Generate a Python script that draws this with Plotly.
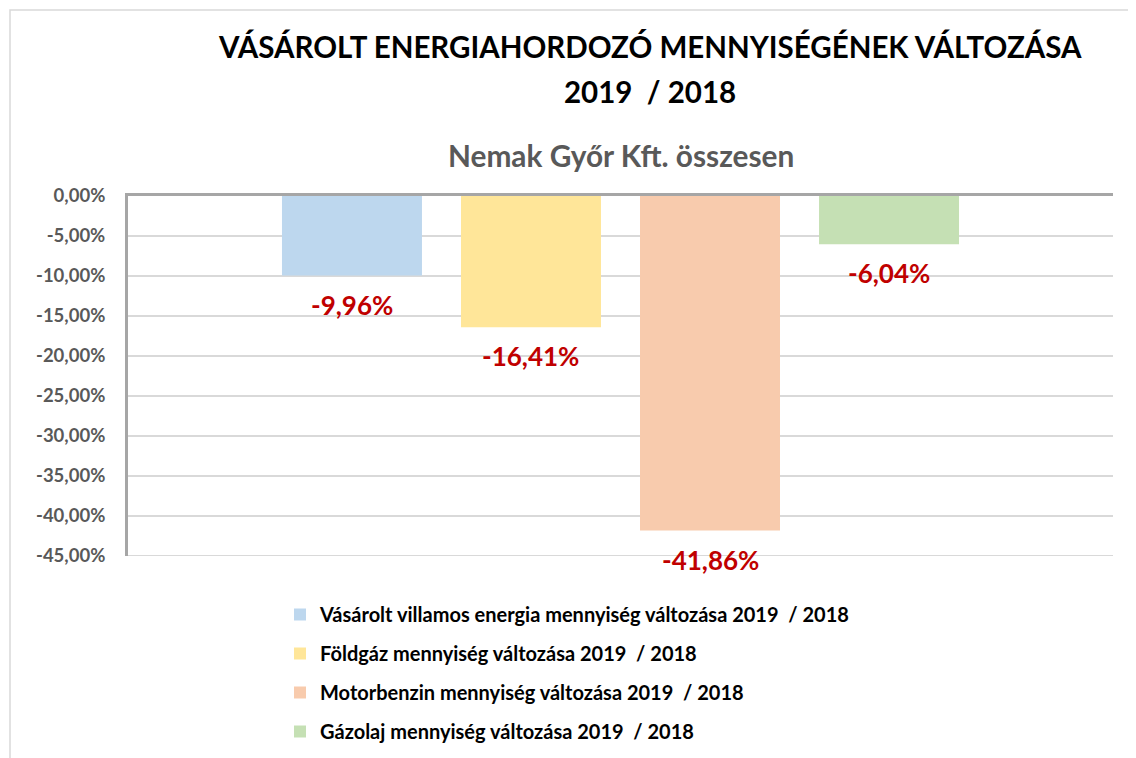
import plotly.graph_objects as go

category = ["Nemak Győr Kft. összesen"]
series_names = [
    "Vásárolt villamos energia mennyiség változása 2019\u00a0 / 2018",
    "Földgáz mennyiség változása 2019\u00a0 / 2018",
    "Motorbenzin mennyiség változása 2019\u00a0 / 2018",
    "Gázolaj mennyiség változása 2019\u00a0 / 2018",
]
series_values = [-0.0996, -0.1641, -0.4186, -0.0604]
series_colors = ["#BDD7EE", "#FFE699", "#F8CBAD", "#C5E0B4"]
tick_values = [0, -0.05, -0.10, -0.15, -0.20, -0.25, -0.30, -0.35, -0.40, -0.45]
tick_labels = ["0,00%", "-5,00%", "-10,00%", "-15,00%", "-20,00%", "-25,00%",
               "-30,00%", "-35,00%", "-40,00%", "-45,00%"]
title_lines = ["VÁSÁROLT ENERGIAHORDOZÓ MENNYISÉGÉNEK VÁLTOZÁSA", "2019\u00a0 / 2018"]
subtitle = "Nemak Győr Kft. összesen"

FONT = "Lato, 'Open Sans', sans-serif"
BARGAP = 0.273
BARGROUPGAP = 0.218
GRID = "#D9D9D9"

# page offset of the figure (default body margin of the html page)
OFF = 8
FIG_W, FIG_H = 1136 - OFF, 758 - OFF
# plot area in page pixels
L, R, T, B = 128, 1113, 196, 556
W, H = R - L, B - T


def px_x(p):
    return (p - L) / W


def px_y(p):
    return (B - p) / H


def fmt(v):
    return ("%.2f%%" % (v * 100)).replace(".", ",")


fig = go.Figure()
n = len(series_values)
annotations = []
for i, (name, val, col) in enumerate(zip(series_names, series_values, series_colors)):
    fig.add_trace(go.Bar(
        x=category, y=[val], name=name, marker=dict(color=col, line=dict(width=0)),
        legendgroup="g%d" % i, hoverinfo="skip",
    ))
    # data label below each bar, at the bar's slot within the group
    slot = (1 - BARGAP) / n
    annotations.append(dict(
        text=fmt(val), xref="x", yref="y", x=(i - (n - 1) / 2) * slot, y=val,
        xanchor="center", yanchor="top", yshift=-11, showarrow=False,
        font=dict(family=FONT, size=26, color="#C00000", weight="bold"),
    ))

for line, ypx in zip(title_lines, [47, 92]):
    annotations.append(dict(
        text=line, xref="paper", yref="paper", x=px_x(650), y=px_y(ypx),
        xanchor="center", yanchor="middle", showarrow=False,
        font=dict(family=FONT, size=29.5, color="#000000", weight="bold"),
    ))
annotations.append(dict(
    text=subtitle, xref="paper", yref="paper",
    x=0.5, y=px_y(155), xanchor="center", yanchor="middle",
    showarrow=False, font=dict(family=FONT, size=29.8, color="#595959", weight="bold"),
))

fig.update_layout(
    width=FIG_W, height=FIG_H,
    paper_bgcolor="white", plot_bgcolor="white",
    margin=dict(l=L - OFF, r=FIG_W - (R - OFF), t=T - OFF, b=FIG_H - (B - OFF),
                autoexpand=False),
    barmode="group", bargap=BARGAP, bargroupgap=BARGROUPGAP,
    font=dict(family=FONT),
    annotations=annotations,
    showlegend=True,
    legend=dict(
        orientation="v", x=px_x(280), xanchor="left",
        y=px_y(595), yanchor="top",
        font=dict(family=FONT, size=20, color="#000000", weight="bold"),
        tracegroupgap=10, bgcolor="rgba(0,0,0,0)",
    ),
    xaxis=dict(showticklabels=False, showgrid=False, side="top", showline=True,
               linecolor="#A6A6A6", linewidth=3, ticks="", zeroline=False,
               range=[-0.5, 0.5]),
    yaxis=dict(range=[-0.4504, 0], tickvals=tick_values, ticktext=tick_labels,
               showgrid=True, gridcolor=GRID, gridwidth=1.5,
               showline=True, linecolor="#A6A6A6", linewidth=3, zeroline=False,
               ticks="", ticklabelstandoff=16,
               tickfont=dict(family=FONT, size=18.5, color="#595959", weight="bold")),
    shapes=[
        dict(type="rect", xref="paper", yref="paper",
             x0=px_x(10), x1=1.2, y0=-1.0, y1=px_y(10),
             line=dict(color=GRID, width=1.5), layer="below"),
        dict(type="line", xref="paper", yref="y", x0=0, x1=1,
             y0=tick_values[-1], y1=tick_values[-1],
             line=dict(color=GRID, width=1.5), layer="below"),
    ],
)

fig.write_html("out.html")
